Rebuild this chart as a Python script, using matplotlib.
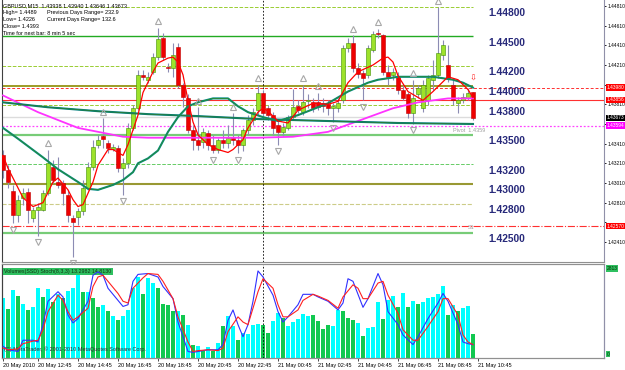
import numpy as np
import matplotlib.pyplot as plt
from matplotlib.transforms import blended_transform_factory, offset_copy

plt.rcParams['font.family'] = ['Liberation Sans', 'DejaVu Sans']

# GBPUSD M15 candles (bar 0 = 20 May 11:00)
opens = [1.4329, 1.4314, 1.4293, 1.4268, 1.4286, 1.4292, 1.4265, 1.4274, 1.4274, 1.4291,
         1.4317, 1.4302, 1.4301, 1.4289, 1.4265, 1.4266, 1.4272, 1.4296, 1.4317, 1.4340,
         1.4349, 1.4342, 1.4336, 1.4337, 1.4316, 1.4321, 1.4357, 1.4377, 1.4411, 1.4406,
         1.4414, 1.4429, 1.4448, 1.4419, 1.4418, 1.4439, 1.4401, 1.4387, 1.4355, 1.4345,
         1.4343, 1.4352, 1.4340, 1.4335, 1.4345, 1.4342, 1.4347, 1.4345, 1.4340, 1.4355,
         1.4365, 1.4375, 1.4393, 1.4377, 1.4370, 1.4360, 1.4353, 1.4357, 1.4368, 1.4379,
         1.4373, 1.4384, 1.4383, 1.4383, 1.4382, 1.4381, 1.4377, 1.4377, 1.4385, 1.4438,
         1.4443, 1.4418, 1.4413, 1.4411, 1.4436, 1.4454, 1.4451, 1.4414, 1.4411, 1.4409,
         1.4396, 1.4391, 1.4372, 1.4391, 1.4377, 1.4385, 1.4406, 1.4411, 1.4431, 1.4421,
         1.4401, 1.4382, 1.4385, 1.4387, 1.43938]
closes = [1.4314, 1.4302, 1.4268, 1.4284, 1.4291, 1.4274, 1.4274, 1.4277, 1.4291, 1.4321,
          1.4304, 1.4299, 1.4291, 1.4268, 1.4261, 1.4272, 1.4296, 1.4317, 1.4338, 1.4345,
          1.4346, 1.4337, 1.4338, 1.4316, 1.4321, 1.4357, 1.4377, 1.4411, 1.4409, 1.4409,
          1.4429, 1.4447, 1.4429, 1.4418, 1.4431, 1.4401, 1.4388, 1.4355, 1.4345, 1.4340,
          1.4353, 1.4340, 1.4335, 1.4345, 1.4342, 1.4347, 1.4345, 1.4340, 1.4355, 1.4365,
          1.4373, 1.4393, 1.4372, 1.4370, 1.4357, 1.4353, 1.4358, 1.4368, 1.4378, 1.4375,
          1.4383, 1.4385, 1.4377, 1.4378, 1.4379, 1.4377, 1.4379, 1.4382, 1.4438, 1.4443,
          1.4418, 1.4412, 1.4408, 1.4438, 1.4453, 1.4453, 1.4414, 1.4409, 1.4414, 1.4396,
          1.4387, 1.4372, 1.4387, 1.4398, 1.4401, 1.4408, 1.4411, 1.4433, 1.4441, 1.4408,
          1.4385, 1.4385, 1.4388, 1.4393, 1.43673]
highs = [1.4335, 1.4319, 1.4299, 1.4289, 1.4296, 1.4296, 1.4277, 1.4281, 1.4294, 1.4335,
         1.4324, 1.4327, 1.4304, 1.4294, 1.4268, 1.4276, 1.4304, 1.4322, 1.4345, 1.4350,
         1.4367, 1.4345, 1.4341, 1.4340, 1.4326, 1.4362, 1.4380, 1.4416, 1.4416, 1.4414,
         1.4433, 1.4459, 1.4454, 1.4423, 1.4443, 1.4443, 1.4403, 1.4391, 1.4360, 1.4378,
         1.4357, 1.4355, 1.4350, 1.4347, 1.4355, 1.4360, 1.4372, 1.4350, 1.4357, 1.4370,
         1.4377, 1.4401, 1.4396, 1.4380, 1.4373, 1.4365, 1.4362, 1.4370, 1.4397, 1.4385,
         1.4401, 1.4391, 1.4387, 1.4393, 1.4387, 1.4385, 1.4382, 1.4387, 1.4441, 1.4448,
         1.4451, 1.4423, 1.4416, 1.4441, 1.4456, 1.4458, 1.4453, 1.4421, 1.4418, 1.4414,
         1.4401, 1.4394, 1.4406, 1.4401, 1.4406, 1.4411, 1.4426, 1.4480, 1.4446, 1.4441,
         1.4406, 1.4388, 1.4393, 1.4398, 1.43940]
lows = [1.4306, 1.4296, 1.4260, 1.4261, 1.4279, 1.4260, 1.4261, 1.4247, 1.4272, 1.4289,
        1.4301, 1.4296, 1.4279, 1.4261, 1.4226, 1.4258, 1.4268, 1.4294, 1.4314, 1.4337,
        1.4337, 1.4331, 1.4333, 1.4312, 1.4289, 1.4316, 1.4355, 1.4375, 1.4406, 1.4403,
        1.4412, 1.4426, 1.4426, 1.4414, 1.4409, 1.4398, 1.4378, 1.4352, 1.4335, 1.4335,
        1.4337, 1.4335, 1.4331, 1.4331, 1.4337, 1.4337, 1.4340, 1.4331, 1.4333, 1.4350,
        1.4360, 1.4370, 1.4367, 1.4365, 1.4350, 1.4340, 1.4349, 1.4355, 1.4365, 1.4372,
        1.4370, 1.4377, 1.4373, 1.4375, 1.4373, 1.4370, 1.4363, 1.4373, 1.4382, 1.4434,
        1.4414, 1.4408, 1.4385, 1.4408, 1.4434, 1.4448, 1.4411, 1.4401, 1.4406, 1.4391,
        1.4385, 1.4367, 1.4361, 1.4387, 1.4373, 1.4380, 1.4396, 1.4408, 1.4426, 1.4404,
        1.4380, 1.4372, 1.4382, 1.4385, 1.43646]

fractal_up = [9, 20, 31, 39, 46, 51, 60, 63, 70, 75, 82, 87]
fractal_dn = [2, 7, 14, 24, 42, 47, 55, 66, 72, 82]

# moving averages (bar, price)
ma_fast_bar = [0, 1, 3, 4, 6, 8, 10, 11, 13, 14, 15, 16, 18, 19, 21, 22, 24, 25, 27, 28,
               30, 31, 33, 34, 35, 36, 37, 38, 39, 41, 43, 45, 46, 48, 49, 51, 52, 53, 55, 57,
               59, 62, 65, 67, 69, 71, 74, 76, 77, 78, 79, 81, 84, 86, 89, 91, 93, 94]
ma_fast = [1.4329, 1.4316, 1.4296, 1.4286, 1.4277, 1.4281, 1.4302, 1.4306, 1.4294, 1.4284,
           1.4277, 1.4279, 1.4302, 1.4319, 1.4335, 1.4335, 1.4329, 1.4340, 1.4370, 1.4393,
           1.4414, 1.4423, 1.4428, 1.4429, 1.4424, 1.4411, 1.4385, 1.4363, 1.4350, 1.4340,
           1.4335, 1.4332, 1.4335, 1.4345, 1.4357, 1.4373, 1.4377, 1.4374, 1.4364, 1.4362,
           1.4375, 1.4382, 1.4381, 1.4384, 1.4403, 1.4414, 1.4421, 1.4428, 1.4429, 1.4424,
           1.4410, 1.4394, 1.4385, 1.4394, 1.4409, 1.4406, 1.4396, 1.4388]
ma_mid_bar = [0, 3, 8, 11, 15, 17, 19, 22, 24, 26, 27, 29, 31, 33, 35, 37, 39, 42, 45, 47,
              49, 52, 55, 59, 65, 69, 73, 75, 79, 83, 86, 90, 92, 94]
ma_mid = [1.4357, 1.4346, 1.4327, 1.4315, 1.4302, 1.4295, 1.4294, 1.4299, 1.4304, 1.4312,
          1.4321, 1.4326, 1.4334, 1.4353, 1.4368, 1.4379, 1.4383, 1.4387, 1.4387, 1.4379,
          1.4373, 1.4368, 1.4364, 1.4370, 1.4382, 1.4394, 1.4403, 1.4406, 1.4409, 1.4409,
          1.4409, 1.4406, 1.4403, 1.4398]
ma_slow_bar = [0, 9, 19, 29, 39, 51, 65, 79, 94]
ma_slow = [1.4383, 1.4378, 1.4374, 1.4371, 1.4369, 1.4366, 1.4364, 1.4362, 1.4361]
ma_long_bar = [0, 7, 15, 19, 24, 29, 39, 51, 58, 65, 71, 78, 83, 89, 94]
ma_long = [1.4390, 1.4373, 1.4357, 1.4353, 1.4348, 1.4347, 1.4347, 1.4347, 1.4348, 1.4353,
           1.4364, 1.4377, 1.4383, 1.4387, 1.4387]

# round levels drawn up to the last bar
levels = [1.448, 1.445, 1.442, 1.440, 1.438, 1.435, 1.432, 1.430, 1.428, 1.425]
level_labels = ['1.44800', '1.44500', '1.44200', '1.44000', '1.43800',
                '1.43500', '1.43200', '1.43000', '1.42800', '1.42500']

right_ticks = [1.44810, 1.44610, 1.44410, 1.44210, 1.44010, 1.43810, 1.43610,
               1.43410, 1.43210, 1.43010, 1.42810, 1.42610, 1.42410]
# tick labels that sit under a price box are not shown
hidden_ticks = [1.44010, 1.43610, 1.42610]

# volumes + stochastic
volumes = [1896, 1542, 2136, 1959, 1688, 1511, 1615, 2188, 1907, 2167,
           1771, 2001, 1876, 2105, 2209, 2657, 2084, 2063, 1896, 1615,
           1667, 1480, 1303, 1198, 1303, 1511, 2209, 2553, 2001, 2501,
           2345, 2209, 1688, 1667, 1459, 1480, 1355, 1021, 417, 365,
           229, 333, 208, 469, 990, 1303, 990, 573, 782,
           750, 1021, 1063, 1042, 782, 1167, 1407, 1250, 990, 1115,
           1230, 1375, 1303, 1334, 1146, 917, 1042, 990, 1511, 1459,
           1250, 1198, 1094, 677, 938, 959, 1771, 1230, 1824, 1959,
           1584, 2032, 1615, 1792, 1688, 1771, 1896, 1928, 2001, 2272,
           1334, 1667, 1480, 1563, 1636, 750]
vol_up = [1, 0, 1, 0, 1, 0, 1, 1, 0, 1,
          0, 1, 0, 1, 1, 1, 0, 1, 0, 0,
          1, 0, 1, 0, 1, 1, 1, 1, 0, 1,
          1, 0, 0, 0, 0, 1, 0, 1, 0, 1,
          0, 1, 0, 1, 0, 1, 1, 0, 1,
          1, 1, 1, 0, 0, 1, 1, 0, 1, 1,
          1, 1, 1, 0, 0, 0, 0, 1, 1, 0,
          0, 0, 1, 0, 1, 1, 1, 0, 1, 1,
          0, 1, 0, 1, 0, 1, 1, 1, 1, 1,
          0, 1, 0, 1, 1, 0]
stoch_k_bar = [0, 1, 3, 4, 6, 7, 8, 9, 11, 12, 13, 14, 15, 17, 18, 19, 20, 21, 23, 24,
               25, 26, 27, 29, 31, 32, 34, 35, 37, 38, 39, 41, 43, 44, 45, 46, 47, 48, 49, 50,
               51, 52, 54, 55, 56, 57, 59, 60, 62, 63, 65, 67, 68, 69, 70, 72, 73, 75, 76, 77,
               79, 80, 82, 83, 85, 87, 88, 89, 91, 92, 93, 94]
stoch_k = [10, 6, 4, 17, 17, 15, 35, 62, 73, 67, 46, 37, 42, 62, 92, 96, 92, 77, 63, 56,
           58, 85, 93, 94, 90, 79, 65, 38, 4, 3, 4, 6, 6, 12, 40, 52, 35, 21, 35, 62,
           97, 90, 69, 50, 38, 44, 58, 70, 70, 67, 62, 52, 60, 88, 85, 55, 65, 94, 81, 50,
           35, 23, 12, 21, 42, 60, 71, 62, 35, 15, 13, 12]
stoch_d_bar = [0, 1, 3, 4, 6, 7, 8, 9, 11, 12, 13, 14, 15, 17, 18, 19, 20, 21, 23, 24,
               25, 26, 28, 29, 31, 32, 34, 35, 37, 38, 39, 41, 43, 44, 45, 47, 48, 49, 50, 51,
               52, 54, 55, 56, 57, 59, 60, 62, 63, 65, 67, 68, 70, 71, 72, 73, 75, 76, 77, 79,
               80, 82, 83, 85, 87, 88, 89, 91, 92, 93, 94]
stoch_d = [8, 6, 7, 13, 16, 17, 29, 50, 69, 63, 50, 40, 44, 54, 79, 90, 92, 85, 71, 62,
           60, 77, 89, 94, 93, 85, 65, 44, 15, 4, 5, 6, 5, 8, 27, 44, 38, 35, 54, 73,
           88, 77, 58, 44, 44, 52, 63, 70, 68, 63, 54, 67, 81, 77, 65, 65, 83, 85, 69, 48,
           29, 17, 17, 33, 50, 65, 65, 46, 23, 15, 12]

time_bars = [0, 7, 15, 23, 31, 39, 47, 55, 63, 71, 79, 87, 95]
time_labels = ['20 May 2010', '20 May 12:45', '20 May 14:45', '20 May 16:45', '20 May 18:45',
               '20 May 20:45', '20 May 22:45', '21 May 00:45', '21 May 02:45', '21 May 04:45',
               '21 May 06:45', '21 May 08:45', '21 May 10:45']

W, H = 625, 370
def box(x0, y0, x1, y1):
    return [x0 / W, 1 - y1 / H, (x1 - x0) / W, (y1 - y0) / H]

fig = plt.figure(figsize=(W / 100, H / 100), dpi=100)
ax = fig.add_axes(box(2, 0, 604, 262))
axv = fig.add_axes(box(2, 264, 604, 358), sharex=ax)
fs = 4.0
fs_r = 3.5   # right-hand scale

ax.set_xlim(-0.2, 120.2)
ax.set_ylim(1.42206, 1.44871)

# levels
lv_style = {1.448: ('#9acd32', '--', 0.7), 1.445: ('#22aa22', '-', 1.0),
            1.442: ('#9acd32', '--', 0.7), 1.440: ('#8b8b00', '-', 1.2),
            1.438: ('#9acd32', '--', 0.7), 1.435: ('#77cc77', '-', 1.6),
            1.432: ('#66cc66', '--', 0.7), 1.430: ('#999933', '-', 1.5),
            1.428: ('#cccc88', '--', 0.8), 1.425: ('#77cc77', '-', 1.6)}
for lv, lab in zip(levels, level_labels):
    col, ls, lw = lv_style[lv]
    ax.hlines(lv, -0.2, 94, color=col, ls=ls, lw=lw, zorder=1)
    ax.annotate(lab, (97, lv), xytext=(0, -4.6), textcoords='offset points',
                va='center', ha='left', fontsize=7.4, fontweight='bold', color='#27297a')
ax.hlines(1.4368, -0.2, 94, color='#dcdcdc', lw=1.0, zorder=1)
ax.axhline(1.43980, color='#ff3030', ls=(0, (3, 2)), lw=0.7, zorder=1)
ax.axhline(1.43856, color='#ff3030', lw=0.8, zorder=1)
ax.axhline(1.43594, color='#ff44ff', ls=(0, (1.5, 1.5)), lw=0.9, zorder=1)
ax.axhline(1.42570, color='#ff3030', ls='-.', lw=0.8, zorder=1)

ax.axvline(52, color='black', ls=(0, (2, 2)), lw=0.6, zorder=2)
axv.axvline(52, color='black', ls=(0, (2, 2)), lw=0.6, zorder=5)

# candles
x = np.arange(len(opens))
o = np.array(opens)
c = np.array(closes)
up = c >= o
dn = c < o
ax.vlines(x, lows, highs, color='#8c8cb4', lw=0.8, zorder=3)
lo = np.minimum(o, c)
hgt = np.maximum(np.abs(c - o), 0.00007)
ax.bar(x[up], hgt[up], 0.62, lo[up], color='#9de22a', edgecolor='#3f8f00', lw=0.4, zorder=4)
ax.bar(x[dn], hgt[dn], 0.62, lo[dn], color='#ee0000', edgecolor='#c00000', lw=0.4, zorder=4)

# fractals
hi = np.array(highs)
lw_ = np.array(lows)
tr_up = offset_copy(ax.transData, fig=fig, y=4.5, units='points')
tr_dn = offset_copy(ax.transData, fig=fig, y=-4.5, units='points')
ax.plot(fractal_up, hi[fractal_up], ls='none', marker='^', ms=4, mfc='none',
        mec='#a8a8a8', mew=0.8, transform=tr_up, zorder=6, clip_on=False)
ax.plot(fractal_dn, lw_[fractal_dn], ls='none', marker='v', ms=4, mfc='none',
        mec='#a8a8a8', mew=0.8, transform=tr_dn, zorder=6, clip_on=False)

# moving averages
ax.plot(ma_long_bar, ma_long, color='#ff33ff', lw=1.3, zorder=5)
ax.plot(ma_slow_bar, ma_slow, color='#008080', lw=1.5, zorder=5)
ax.plot(ma_slow_bar, ma_slow, color='#2e7d32', lw=0.6, zorder=5)
ax.plot(ma_mid_bar, ma_mid, color='#008b8b', lw=1.5, zorder=5)
ax.plot(ma_mid_bar, ma_mid, color='#2e8b2e', lw=0.6, zorder=5)
ax.plot(ma_fast_bar, ma_fast, color='#ff0000', lw=0.9, zorder=5)

ax.text(94, 1.44078, '\u21e9', color='#ff2020', fontsize=6, ha='center', va='center',
        family=['DejaVu Sans'], zorder=6)
ax.text(90, 1.4354, 'Pivot  1.4359', color='#a0a0a0', fontsize=fs, va='center')
ax.text(93, 1.42552, 'S1', color='#a0a0a0', fontsize=fs, va='center')

# right scale
ax.yaxis.tick_right()
ax.set_yticks(right_ticks)
ax.set_yticklabels(['' if t in hidden_ticks else '%.5f' % t for t in right_ticks])
ax.tick_params(axis='y', length=1.5, width=0.6, pad=1, labelsize=fs_r)
ax.tick_params(axis='x', bottom=False, labelbottom=False)
trans = blended_transform_factory(ax.transAxes, ax.transData)
for p, txt, col in [(1.43980, '1.43980', '#ff0000'), (1.43856, '1.43856', '#ff0000'),
                    (1.43673, '1.43673', '#000000'), (1.43594, '1.43594', '#ff00ff'),
                    (1.42570, '1.42570', '#ff0000')]:
    ax.text(1.0045, p, txt, transform=trans, fontsize=fs_r, color='white', va='center',
            ha='left', clip_on=False, zorder=7,
            bbox=dict(boxstyle='square,pad=0.15', fc=col, ec='none'))

ax.spines['top'].set_visible(False)
ax.spines['left'].set_color('#404040')
ax.spines['right'].set_color('#9090a8')
ax.spines['bottom'].set_color('#909090')

# header
head = [('GBPUSD,M15  1.43938 1.43940 1.43646 1.43673', None),
        ('High= 1.4489', 'Previous Days Range= 232.9'),
        ('Low= 1.4226', 'Current Days Range= 132.6'),
        ('Close= 1.4393', None),
        ('Time for next bar: 8 min 5 sec', None)]
for k, (a, b) in enumerate(head):
    yy = 1 - (6 + 6.8 * k) / H
    fig.text(3 / W, yy, a, fontsize=fs, va='center', color='black')
    if b:
        fig.text(47 / W, yy, b, fontsize=fs, va='center', color='black')

# indicator panel
vmax = 2813
axv.set_ylim(0, vmax * 94 / 89.7)
vcols = ['#00ffff' if u else '#12c850' for u in vol_up]
axv.bar(x, volumes, 0.7, color=vcols, zorder=2)
axs = axv.twinx()
axs.set_ylim(-3.5, 105)
axs.plot(stoch_k_bar, stoch_k, color='#3030ff', lw=0.8, zorder=3)
axs.plot(stoch_d_bar, stoch_d, color='#ff2020', lw=0.8, zorder=3)
axs.set_yticks([])
axv.set_yticks([])
for a in (axv, axs):
    a.spines['left'].set_color('#404040')
    a.spines['right'].set_color('#9090a8')
    a.spines['top'].set_color('#909090')
    a.spines['bottom'].set_color('#909090')

axv.set_xticks(time_bars)
axv.set_xticklabels(time_labels, ha='left')
axv.tick_params(axis='x', length=2, width=0.5, pad=1.5, labelsize=fs)

axv.text(0.004, 0.95, 'Volumes(SSD) Stoch(8,3,3) 13.2982 14.8130', transform=axv.transAxes,
         fontsize=3.8, va='top', ha='left', color='#103010', zorder=6,
         bbox=dict(boxstyle='square,pad=0.2', fc='#2fc060', ec='none'))
axv.text(0.004, 0.06, '(C) MetaTrader, \u00a9 2001-2010 MetaQuotes Software Corp.',
         transform=axv.transAxes, fontsize=fs, va='bottom', ha='left', color='#303030', zorder=6)
tv = blended_transform_factory(axv.transAxes, axv.transData)
axv.text(1.0045, vmax, '2813', transform=tv, fontsize=fs_r, color='#003000', va='center',
         ha='left', clip_on=False, bbox=dict(boxstyle='square,pad=0.15', fc='#2fc060', ec='none'))
axv.text(1.0045, 120, '0', transform=tv, fontsize=fs_r, color='#003000', va='center',
         ha='left', clip_on=False, bbox=dict(boxstyle='square,pad=0.15', fc='#2fc060', ec='none'))

fig.savefig('out.png', dpi=100)
